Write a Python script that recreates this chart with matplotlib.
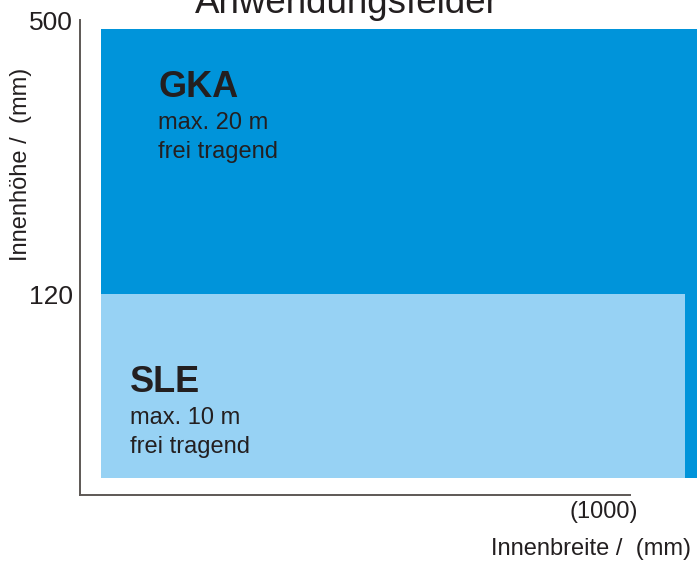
import numpy as np
import matplotlib
matplotlib.use('Agg')
import matplotlib.pyplot as plt
from matplotlib.patches import Rectangle

plt.rcParams['font.family'] = ['Liberation Sans', 'DejaVu Sans']

# fields: name, x from/to (mm), y from/to (mm)
fields = ['GKA', 'SLE']
x_from = [40, 40]
x_to = [1200, 1155]
y_from = [10, 10]
y_to = [488, 120]
colors = ['#0094DA', '#97D2F4']
lines1 = ['max. 20 m', 'max. 10 m']

yticks = [120, 500]
xticks = [1000]
xticklabels = ['(1000)']

W, H = 697, 562
fig = plt.figure(figsize=(W / 100, H / 100), dpi=100)

def px(x, y):
    return x / W, 1 - y / H

# axes box in pixels: left 80, right 697, top 20, bottom 495
ax = fig.add_axes([80 / W, (H - 495) / H, 617 / W, 475 / H])

# y axis is not linear in the original: 0-120 and 120-500 use different spacing
seg_d = [0, 120, 500]
seg_p = [0, 201, 475]
ax.set_yscale('function', functions=(lambda v: np.interp(v, seg_d, seg_p),
                                     lambda v: np.interp(v, seg_p, seg_d)))
ax.set_ylim(0, 500)
ax.set_xlim(0, 617 / 0.524)

for i in range(len(fields)):
    ax.add_patch(Rectangle((x_from[i], y_from[i]), x_to[i] - x_from[i],
                           y_to[i] - y_from[i], facecolor=colors[i],
                           edgecolor='none', zorder=1 + i))

for s in ['top', 'right']:
    ax.spines[s].set_visible(False)
spine_c = '#5d5855'
ax.spines['left'].set_color(spine_c)
ax.spines['bottom'].set_color(spine_c)
ax.spines['left'].set_linewidth(1.4)
ax.spines['bottom'].set_linewidth(1.4)
ax.spines['left'].set_bounds(0, 500)
ax.spines['bottom'].set_bounds(0, 550 / 0.524)

txt_c = '#231f20'
ax.set_yticks(yticks)
ax.set_yticklabels([str(v) for v in yticks], fontsize=19, color=txt_c)
ax.set_xticks(xticks)
ax.set_xticklabels(xticklabels, fontsize=17, color=txt_c)
ax.tick_params(axis='y', length=0, pad=5)
ax.tick_params(axis='x', length=0, pad=4)

# texts in the fields
labels_pos = [(158, 97), (130, 392)]
for i, name in enumerate(fields):
    x0, yb = labels_pos[i]
    fig.text(*px(x0, yb), name, fontsize=26, fontweight='bold', color=txt_c,
             ha='left', va='baseline')
    fig.text(*px(x0, yb + 32), lines1[i], fontsize=17, color=txt_c,
             ha='left', va='baseline')
    fig.text(*px(x0, yb + 61), 'frei tragend', fontsize=17, color=txt_c,
             ha='left', va='baseline')

fig.text(*px(347, 13), 'Anwendungsfelder', fontsize=26.5, color=txt_c,
         ha='center', va='baseline')
fig.text(*px(691, 555), 'Innenbreite /  (mm)', fontsize=17, color=txt_c,
         ha='right', va='baseline')
fig.text(*px(21, 164), 'Innenhöhe /  (mm)', fontsize=17, color=txt_c,
         ha='center', va='center', rotation=90)

plt.savefig('out.png', dpi=100)
